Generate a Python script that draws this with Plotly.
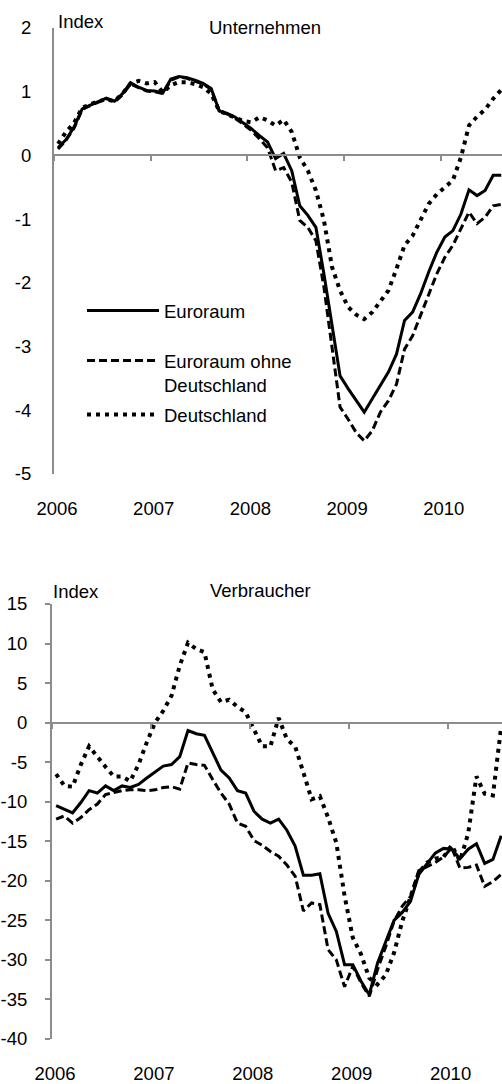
import plotly.graph_objects as go

# ---------------- data ----------------
years_top_start = 2006
tick_years = [2006, 2007, 2008, 2009, 2010]
tick_labels = ["2006", "2007", "2008", "2009", "2010"]
y_ticks_top = [-5, -4, -3, -2, -1, 0, 1, 2]
y_ticks_bot = [-40, -35, -30, -25, -20, -15, -10, -5, 0, 5, 10, 15]

# Unternehmen (business confidence), monthly from Jan 2006
unt_euro = [0.12, 0.25, 0.45, 0.73, 0.79, 0.85, 0.90, 0.85, 0.97, 1.14,
            1.07, 1.02, 1.01, 0.98, 1.20, 1.24, 1.22, 1.18, 1.13, 1.05,
            0.70, 0.66, 0.60, 0.51, 0.42, 0.31, 0.21, -0.05, 0.03, -0.24,
            -0.79, -0.94, -1.13, -1.86, -2.64, -3.46, -3.66, -3.85, -4.03, -3.82,
            -3.61, -3.40, -3.12, -2.59, -2.46, -2.17, -1.83, -1.52, -1.28, -1.18,
            -0.92, -0.54, -0.63, -0.55, -0.31, -0.31]
unt_ohne = [0.10, 0.24, 0.43, 0.72, 0.78, 0.84, 0.89, 0.84, 0.95, 1.12,
            1.06, 1.01, 1.00, 0.97, 1.18, 1.23, 1.21, 1.17, 1.12, 1.04,
            0.70, 0.65, 0.58, 0.49, 0.39, 0.26, 0.12, -0.24, -0.19, -0.42,
            -1.02, -1.13, -1.34, -2.07, -3.01, -3.95, -4.14, -4.35, -4.48, -4.32,
            -4.03, -3.85, -3.59, -3.04, -2.83, -2.51, -2.17, -1.86, -1.60, -1.41,
            -1.15, -0.89, -1.07, -0.97, -0.79, -0.77]
unt_de = [0.18, 0.37, 0.51, 0.75, 0.80, 0.85, 0.88, 0.85, 0.97, 1.13,
          1.17, 1.13, 1.15, 0.99, 1.10, 1.15, 1.15, 1.12, 1.07, 0.97,
          0.70, 0.65, 0.60, 0.54, 0.52, 0.60, 0.55, 0.47, 0.56, 0.37,
          -0.03, -0.24, -0.55, -1.02, -1.75, -2.12, -2.38, -2.50, -2.57, -2.46,
          -2.29, -2.12, -1.78, -1.41, -1.26, -1.02, -0.76, -0.61, -0.51, -0.39,
          -0.03, 0.47, 0.61, 0.72, 0.89, 1.03]

# Verbraucher (consumer confidence), monthly from Jan 2006
ver_euro = [-10.5, -10.9, -11.4, -10.1, -8.6, -8.9, -8.0, -8.6, -8.0, -8.2,
            -7.8, -7.0, -6.3, -5.5, -5.3, -4.3, -1.0, -1.4, -1.6, -3.7,
            -6.0, -7.0, -8.6, -8.9, -11.2, -12.2, -12.7, -12.2, -13.6, -15.6,
            -19.3, -19.3, -19.1, -24.1, -26.4, -30.6, -30.6, -32.7, -34.4, -30.4,
            -27.8, -25.0, -24.0, -22.6, -19.2, -17.9, -16.5, -15.9, -16.0, -17.2,
            -16.0, -15.3, -17.8, -17.3, -14.3]
ver_ohne = [-12.2, -11.8, -12.7, -12.0, -11.0, -10.3, -9.1, -8.8, -8.6, -8.5,
            -8.5, -8.6, -8.5, -8.2, -8.1, -8.4, -5.1, -5.3, -5.4, -7.2,
            -8.9, -10.3, -12.7, -13.1, -14.9, -15.5, -16.3, -16.9, -18.0, -19.4,
            -23.8, -22.8, -23.0, -28.7, -30.0, -33.4, -30.8, -32.9, -34.6, -31.2,
            -28.3, -25.1, -23.2, -22.0, -18.7, -18.2, -17.7, -17.0, -15.8, -18.4,
            -18.3, -18.0, -20.7, -20.1, -19.2]
ver_de = [-6.5, -8.0, -8.1, -5.3, -3.0, -4.4, -5.6, -6.8, -6.8, -7.4,
          -5.3, -2.5, 0.0, 1.5, 3.4, 7.2, 10.1, 9.3, 8.9, 4.2,
          2.6, 2.9, 2.0, 1.3, -0.8, -3.0, -3.0, 0.6, -2.1, -3.0,
          -6.3, -9.7, -9.3, -12.0, -15.2, -21.9, -27.2, -29.3, -32.3, -33.1,
          -31.9, -29.1, -25.1, -21.9, -19.0, -17.7, -17.2, -17.0, -15.5, -17.5,
          -14.0, -6.8, -9.0, -9.2, -0.5]

names = ["Euroraum", "Euroraum ohne<br>Deutschland", "Deutschland"]

def month_x(n):
    return [years_top_start + (i + 0.5) / 12 for i in range(n)]

x_top = month_x(len(unt_euro))
x_bot = month_x(len(ver_euro))

# ---------------- figure ----------------
W, H = 502, 1084
FONT = "Liberation Sans, Arial, sans-serif"
FS = 18.5
GRAY = "#8c8c8c"

def px(p):  # screen pixel x -> paper x
    return p / W

def py(p):  # screen pixel y -> paper y
    return 1 - p / H

top_dom = [py(474), py(28)]
bot_dom = [py(1039), py(604)]
top_range = [-5, 2]
bot_range = [-40, 15]
xr_top = [2006, 2006 + 448 / 96.7]
xr_bot = [2006, 2006 + 450 / 98.9]

styles = [dict(color="black", width=3, dash="solid"),
          dict(color="black", width=3, dash="8px,4px"),
          dict(color="black", width=4, dash="4px,5px")]

fig = go.Figure()
legends = ["legend", "legend2", "legend3"]
for k, ys in enumerate([unt_euro, unt_ohne, unt_de]):
    fig.add_trace(go.Scatter(x=x_top, y=ys, mode="lines", name=names[k],
                             line=styles[k], xaxis="x", yaxis="y",
                             legend=legends[k], showlegend=True))
for k, ys in enumerate([ver_euro, ver_ohne, ver_de]):
    fig.add_trace(go.Scatter(x=x_bot, y=ys, mode="lines", name=names[k],
                             line=styles[k], xaxis="x2", yaxis="y2",
                             showlegend=False))
# empty traces to register zero-line axes
fig.add_trace(go.Scatter(x=[], y=[], xaxis="x3", yaxis="y", showlegend=False))
fig.add_trace(go.Scatter(x=[], y=[], xaxis="x4", yaxis="y2", showlegend=False))

def zero_pos(dom, rng):
    return dom[0] + (0 - rng[0]) / (rng[1] - rng[0]) * (dom[1] - dom[0])

tf = dict(family=FONT, size=FS, color="black")
base_x = dict(showgrid=False, zeroline=False, showline=False, ticks="",
              tickvals=tick_years, ticktext=tick_labels, tickfont=tf,
              automargin=False)
zero_x = dict(showgrid=False, zeroline=False, showline=True, linecolor=GRAY,
              linewidth=2, ticks="outside", ticklen=5, tickwidth=1.5,
              tickcolor=GRAY, tickvals=tick_years, showticklabels=False,
              anchor="free", automargin=False)

fig.update_layout(
    width=W, height=H, margin=dict(l=0, r=0, t=0, b=0, autoexpand=False),
    paper_bgcolor="white", plot_bgcolor="white",
    font=tf,
    xaxis=dict(**base_x, domain=[px(54), 1], range=xr_top, anchor="y",
               ticklabelstandoff=21, ticklabelshift=3),
    yaxis=dict(domain=top_dom, range=top_range, showgrid=False, zeroline=False,
               showline=True, linecolor=GRAY, linewidth=2, ticks="",
               tickvals=y_ticks_top, ticktext=[str(v) for v in y_ticks_top],
               anchor="x", tickfont=tf, ticklabelstandoff=17, automargin=False),
    xaxis2=dict(**base_x, domain=[px(52), 1], range=xr_bot, anchor="y2",
                ticklabelstandoff=21, ticklabelshift=3),
    yaxis2=dict(domain=bot_dom, range=bot_range, showgrid=False, zeroline=False,
                showline=True, linecolor=GRAY, linewidth=2, ticks="outside",
                ticklen=5, tickwidth=1.5, tickcolor=GRAY,
                tickvals=y_ticks_bot, ticktext=[str(v) for v in y_ticks_bot],
                anchor="x2", tickfont=tf, ticklabelstandoff=14, automargin=False),
    xaxis3=dict(**zero_x, overlaying="x", matches="x",
                position=zero_pos(top_dom, top_range)),
    xaxis4=dict(**zero_x, overlaying="x2", matches="x2",
                position=zero_pos(bot_dom, bot_range)),
)

leg_common = dict(bgcolor="rgba(0,0,0,0)", borderwidth=0, xanchor="left",
                  yanchor="middle", font=tf, itemwidth=72, valign="top")
fig.update_layout(
    legend=dict(**leg_common, x=px(82), y=py(311)),
    legend2=dict(**leg_common, x=px(82), y=py(373)),
    legend3=dict(**leg_common, x=px(82), y=py(415)),
)

annots = [
    dict(text="Index", x=px(56), y=py(21), xanchor="left"),
    dict(text="Unternehmen", x=px(265), y=py(27), xanchor="center"),
    dict(text="Index", x=px(51), y=py(591), xanchor="left"),
    dict(text="Verbraucher", x=px(260), y=py(590), xanchor="center"),
]
for a in annots:
    fig.add_annotation(xref="paper", yref="paper", showarrow=False,
                       yanchor="middle", font=tf, **a)

# remove the default 8px page margin so the figure sits at the window origin
fig.write_html("out.html", config={"displayModeBar": False},
               post_script="document.body.style.margin='0px';")
